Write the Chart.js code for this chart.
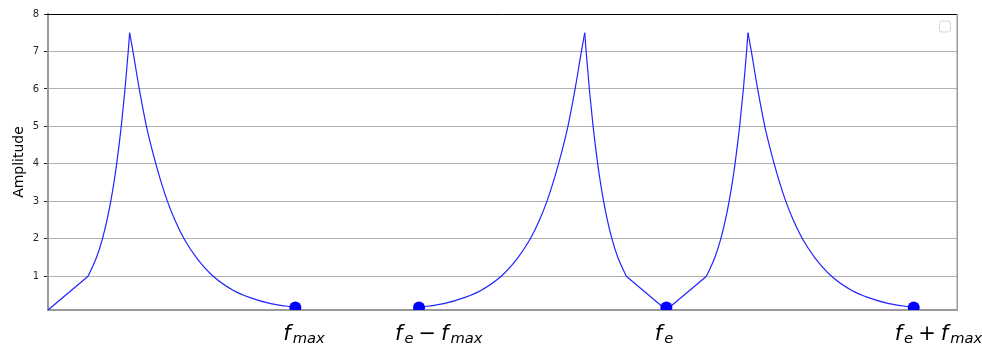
<!DOCTYPE html>
<html>
<head>
<meta charset="utf-8">
<title>Spectre échantillonné</title>
<script src="https://cdn.jsdelivr.net/npm/chart.js@4.4.1/dist/chart.umd.min.js"></script>
<style>
  html, body { margin: 0; padding: 0; background: #ffffff; }
  #c { display: block; }
</style>
</head>
<body>
<canvas id="c" width="982" height="345"></canvas>
<script>
// Baseband spectrum (0 .. f_max)
const baseFreq = [0, 0.1621, 0.196, 0.22, 0.2385, 0.2537, 0.2665, 0.2776, 0.2962, 0.3114, 0.3243, 0.330,
                  0.3435, 0.369, 0.398, 0.416, 0.436, 0.458, 0.483, 0.513, 0.550, 0.600, 0.668,
                  0.75, 0.817, 0.9, 1.0];
const baseAmp  = [0.1, 1.0, 1.5, 2.0, 2.5, 3.0, 3.5, 4.0, 5.0, 6.0, 7.0, 7.5,
                  7.0, 6.0, 5.0, 4.5, 4.0, 3.5, 3.0, 2.5, 2.0, 1.5, 1.0,
                  0.62, 0.43, 0.27, 0.17];

// Image below f_e (f_e - f_max .. f_e)
const lowerFreq = [1.5, 1.6, 1.683, 1.75, 1.832, 1.9, 1.95, 1.987, 2.017, 2.042, 2.064, 2.084,
                   2.102, 2.131, 2.1565, 2.17, 2.1757, 2.1886, 2.2038, 2.2224, 2.2335, 2.2463,
                   2.2615, 2.28, 2.304, 2.3379, 2.5];
const lowerAmp  = [0.17, 0.27, 0.43, 0.62, 1.0, 1.5, 2.0, 2.5, 3.0, 3.5, 4.0, 4.5,
                   5.0, 6.0, 7.0, 7.5, 7.0, 6.0, 5.0, 4.0, 3.5, 3.0,
                   2.5, 2.0, 1.5, 1.0, 0.1];

// Image above f_e (f_e .. f_e + f_max)
const upperFreq = [2.5, 2.6621, 2.696, 2.72, 2.7385, 2.7537, 2.7665, 2.7776, 2.7962, 2.8114, 2.8243, 2.83,
                   2.8435, 2.869, 2.898, 2.916, 2.936, 2.958, 2.983, 3.013, 3.05, 3.1, 3.168,
                   3.25, 3.317, 3.4, 3.5];
const upperAmp  = [0.1, 1.0, 1.5, 2.0, 2.5, 3.0, 3.5, 4.0, 5.0, 6.0, 7.0, 7.5,
                   7.0, 6.0, 5.0, 4.5, 4.0, 3.5, 3.0, 2.5, 2.0, 1.5, 1.0,
                   0.62, 0.43, 0.27, 0.17];

// Marked frequencies
const markerFreq = [1, 1.5, 2.5, 3.5];
const markerAmp  = [0.17, 0.17, 0.17, 0.17];

// Axis ticks
const xTickValues = [1, 1.5, 2.5, 3.5];
const xTickLabels = ['f_max', 'f_e − f_max', 'f_e', 'f_e + f_max'];
const yTicks = [1, 2, 3, 4, 5, 6, 7, 8];

const X_MIN = 0, X_MAX = 3.675;
const Y_MIN = 0.1, Y_MAX = 8;

const LINE_COLOR = '#2323ff';
const MARK_COLOR = '#0000ff';

const toPoints = (xs, ys, from, to) =>
  xs.slice(from, to + 1).map((x, i) => ({ x: x, y: ys[from + i] }));

// One piece of a lobe: straight joins stay straight, flanks are drawn smooth
// (each flank is monotone, so the cusp at the peak stays sharp)
const piece = (xs, ys, from, to, smooth) => ({
  data: toPoints(xs, ys, from, to),
  borderColor: LINE_COLOR,
  borderWidth: 1.2,
  pointRadius: 0,
  fill: false,
  tension: 0,
  cubicInterpolationMode: smooth ? 'monotone' : 'default',
  clip: 1
});

// Frame, empty legend box and math-style frequency labels
const framePlugin = {
  id: 'frameAndLabels',
  afterDraw(chart, args, opts) {
    const ctx = chart.ctx;
    const a = chart.chartArea;
    const xs = chart.scales.x;
    ctx.save();

    // top spine
    ctx.strokeStyle = '#000000';
    ctx.lineWidth = 1;
    ctx.beginPath();
    ctx.moveTo(a.left - 1, Math.round(a.top) + 0.5);
    ctx.lineTo(a.right + 1, Math.round(a.top) + 0.5);
    ctx.stroke();

    // right spine
    ctx.strokeStyle = '#9a9a9a';
    ctx.lineWidth = 1.5;
    ctx.beginPath();
    ctx.moveTo(Math.round(a.right) + 0.25, a.top);
    ctx.lineTo(Math.round(a.right) + 0.25, a.bottom + 1);
    ctx.stroke();

    // empty legend frame
    const bx = a.right - 17.5, by = a.top + 7, bw = 11, bh = 11, r = 2.5;
    ctx.strokeStyle = '#d4d4d4';
    ctx.lineWidth = 1;
    ctx.beginPath();
    ctx.moveTo(bx + r, by);
    ctx.lineTo(bx + bw - r, by);
    ctx.arcTo(bx + bw, by, bx + bw, by + r, r);
    ctx.lineTo(bx + bw, by + bh - r);
    ctx.arcTo(bx + bw, by + bh, bx + bw - r, by + bh, r);
    ctx.lineTo(bx + r, by + bh);
    ctx.arcTo(bx, by + bh, bx, by + bh - r, r);
    ctx.lineTo(bx, by + r);
    ctx.arcTo(bx, by, bx + r, by, r);
    ctx.closePath();
    ctx.stroke();

    // frequency labels with subscripts
    ctx.fillStyle = '#000000';
    ctx.textBaseline = 'alphabetic';
    ctx.textAlign = 'left';
    const mainFont = 'italic 21px "DejaVu Sans"';
    const subFont = 'italic 14.7px "DejaVu Sans"';
    const opFont = '21px "DejaVu Sans"';
    xTickLabels.forEach((label, i) => {
      let x = xs.getPixelForValue(xTickValues[i]) + opts.shift[i];
      const y = opts.baseline;
      label.split(' ').forEach(tok => {
        if (tok === '−' || tok === '+') {
          ctx.font = opFont;
          x += opts.opGap;
          ctx.fillText(tok, x, y);
          x += ctx.measureText(tok).width + opts.opGap;
        } else {
          const parts = tok.split('_');
          ctx.font = mainFont;
          ctx.fillText(parts[0], x, y);
          x += ctx.measureText(parts[0]).width + opts.italicGap;
          if (parts[1]) {
            ctx.font = subFont;
            ctx.fillText(parts[1], x, y + opts.subDrop);
            x += ctx.measureText(parts[1]).width;
          }
        }
      });
    });
    ctx.restore();
  }
};

new Chart(document.getElementById('c'), {
  type: 'line',
  data: {
    datasets: [
      {
        type: 'scatter',
        data: markerFreq.map((x, i) => ({ x: x, y: markerAmp[i] })),
        backgroundColor: MARK_COLOR,
        borderColor: MARK_COLOR,
        pointRadius: 6,
        pointBorderWidth: 0,
        showLine: false,
        clip: 0
      },
      // baseband: straight start, rising flank, falling flank
      piece(baseFreq, baseAmp, 0, 1, false),
      piece(baseFreq, baseAmp, 1, 11, true),
      piece(baseFreq, baseAmp, 11, 26, true),
      // lower image: rising flank, falling flank, straight end
      piece(lowerFreq, lowerAmp, 0, 15, true),
      piece(lowerFreq, lowerAmp, 15, 25, true),
      piece(lowerFreq, lowerAmp, 25, 26, false),
      // upper image: straight start, rising flank, falling flank
      piece(upperFreq, upperAmp, 0, 1, false),
      piece(upperFreq, upperAmp, 1, 11, true),
      piece(upperFreq, upperAmp, 11, 26, true)
    ]
  },
  options: {
    responsive: false,
    animation: false,
    devicePixelRatio: 1,
    layout: { padding: { top: 14, right: 25, left: 0, bottom: 0 } },
    plugins: {
      legend: { display: false },
      tooltip: { enabled: false },
      frameAndLabels: {
        shift: [-12, -24, -11.5, -19],
        baseline: 339.5,
        subDrop: 3.5,
        opGap: 5,
        italicGap: 2
      }
    },
    scales: {
      x: {
        type: 'linear',
        min: X_MIN,
        max: X_MAX,
        afterBuildTicks: s => { s.ticks = xTickValues.map(v => ({ value: v })); },
        afterFit: s => { s.height = 35; },
        ticks: { display: false },
        grid: { display: false, drawTicks: false },
        border: { display: true, color: '#9a9a9a', width: 2 }
      },
      y: {
        type: 'linear',
        min: Y_MIN,
        max: Y_MAX,
        afterBuildTicks: s => { s.ticks = yTicks.map(v => ({ value: v })); },
        afterFit: s => { s.width = 48; },
        ticks: {
          color: '#262626',
          font: { family: '"DejaVu Sans"', size: 10 },
          padding: 5
        },
        grid: {
          color: '#b0b0b0',
          lineWidth: 1,
          tickLength: 4,
          tickColor: '#262626',
          drawTicks: true
        },
        border: { display: true, color: '#9a9a9a', width: 2 },
        title: {
          display: true,
          text: 'Amplitude',
          color: '#000000',
          font: { family: '"DejaVu Sans"', size: 14 },
          padding: { top: 10.5, bottom: 0 }
        }
      }
    }
  },
  plugins: [framePlugin]
});
</script>
</body>
</html>
